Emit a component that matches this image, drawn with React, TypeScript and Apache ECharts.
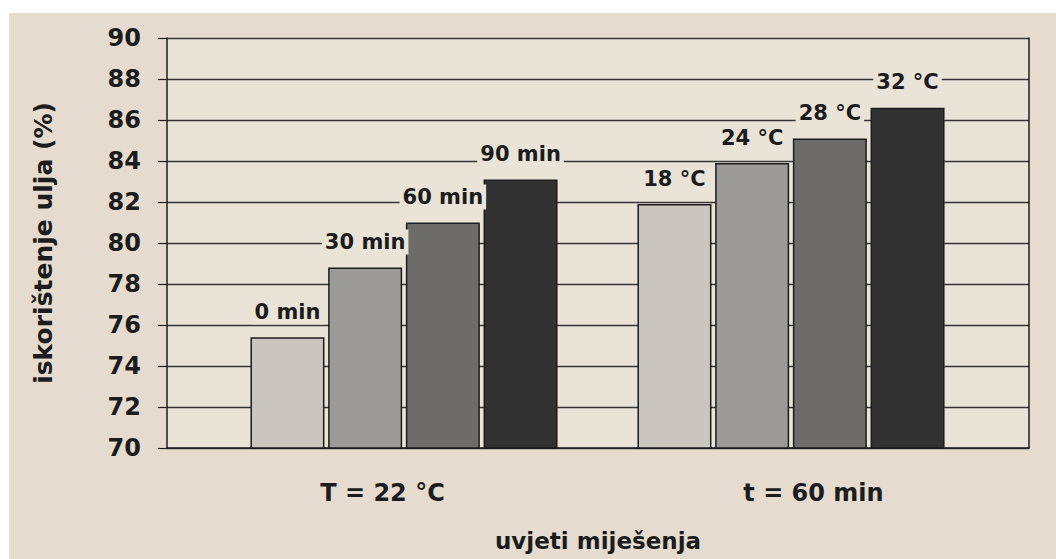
import React, { useEffect, useRef } from "react";
import * as echarts from "echarts";

const categories = ["T = 22 °C", "t = 60 min"];
const seriesValues = [
  [75.4, 81.9],
  [78.8, 83.9],
  [81.0, 85.1],
  [83.1, 86.6],
];
const barLabels = [
  ["0 min", "18 °C"],
  ["30 min", "24 °C"],
  ["60 min", "28 °C"],
  ["90 min", "32 °C"],
];
const barColors = ["#c9c6c0", "#9c9a96", "#6d6c6a", "#313131"];
const yMin = 70;
const yMax = 90;
const yInterval = 2;

const PAPER = "#e5dccf";
const PLOT = "#eae3d8";
const INK = "#1c1c1c";
const FONT = "'DejaVu Sans', 'Liberation Sans', Arial, sans-serif";

export default function App() {
  const ref = useRef<HTMLDivElement>(null);
  useEffect(() => {
    document.body.style.margin = "0";
    const chart = echarts.init(ref.current!, null, { renderer: "svg" });
    const series = seriesValues.map((vals, i) => ({
      type: "bar",
      xAxisIndex: 1,
      yAxisIndex: 2,
      barWidth: 74,
      barGap: "5%",
      data: vals,
      itemStyle: { color: barColors[i], borderColor: INK, borderWidth: 1.5 },
      label: {
        show: true,
        position: "top",
        distance: 13,
        formatter: (p: any) => barLabels[i][p.dataIndex],
        fontFamily: FONT,
        fontWeight: "bold",
        fontSize: 21,
        color: INK,
        backgroundColor: PLOT,
        padding: [2, 3],
      },
    }));
    chart.setOption({
      animation: false,
      backgroundColor: "#ffffff",
      graphic: [
        {
          type: "rect",
          z: -10,
          silent: true,
          shape: { x: 9, y: 13, width: 1056, height: 559 },
          style: { fill: PAPER },
        },
      ],
      grid: [
        {
          left: 167,
          right: 27,
          top: 38,
          bottom: 111,
          show: true,
          backgroundColor: PLOT,
          borderWidth: 0,
        },
        { left: 210.5, right: 71.5, top: 38, bottom: 111 },
      ],
      xAxis: [
        {
          type: "category",
          gridIndex: 0,
          data: categories,
          axisLine: { show: true, lineStyle: { color: INK, width: 1.5 } },
          axisTick: { show: false },
          axisLabel: {
            fontFamily: FONT,
            fontWeight: "bold",
            fontSize: 24,
            color: INK,
            margin: 33,
          },
          name: "uvjeti miješenja",
          nameLocation: "middle",
          nameGap: 81,
          nameTextStyle: {
            fontFamily: FONT,
            fontWeight: "bold",
            fontSize: 23,
            color: INK,
          },
        },
        {
          type: "category",
          gridIndex: 1,
          data: categories,
          show: false,
        },
      ],
      yAxis: [
        {
          type: "value",
          gridIndex: 0,
          min: yMin,
          max: yMax,
          interval: yInterval,
          axisLine: { show: true, lineStyle: { color: INK, width: 1.5 } },
          axisTick: { show: true, length: 9, lineStyle: { color: INK, width: 1.2 } },
          splitLine: { show: true, lineStyle: { color: "#353535", width: 1.3 } },
          axisLabel: {
            fontFamily: FONT,
            fontWeight: "bold",
            fontSize: 24,
            color: INK,
            margin: 26,
          },
          name: "iskorištenje ulja (%)",
          nameLocation: "middle",
          nameGap: 111,
          nameTextStyle: {
            fontFamily: FONT,
            fontWeight: "bold",
            fontSize: 25,
            color: INK,
          },
        },
        {
          type: "value",
          gridIndex: 0,
          position: "right",
          min: yMin,
          max: yMax,
          interval: yInterval,
          axisLine: { show: true, lineStyle: { color: INK, width: 1.5 } },
          axisTick: { show: false },
          axisLabel: { show: false },
          splitLine: { show: false },
        },
        {
          type: "value",
          gridIndex: 1,
          min: yMin,
          max: yMax,
          interval: yInterval,
          show: false,
          splitLine: { show: false },
        },
      ],
      series,
    });
    return () => chart.dispose();
  }, []);
  return <div ref={ref} style={{ width: 1056, height: 559 }} />;
}
